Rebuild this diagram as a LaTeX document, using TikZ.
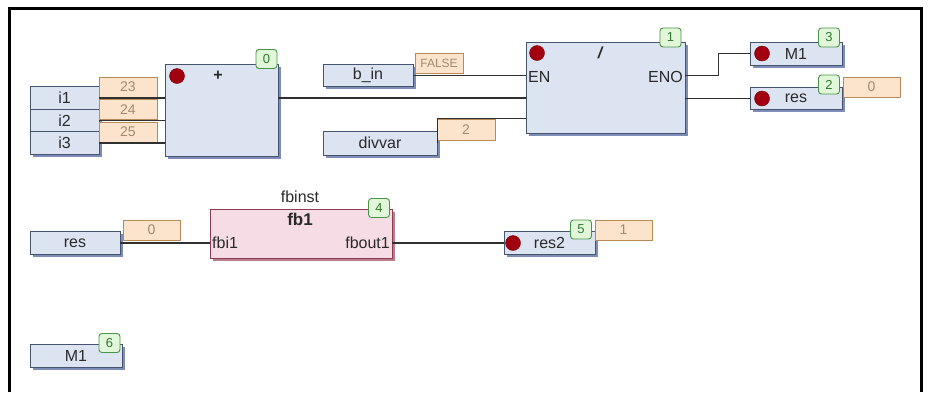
\documentclass[tikz,border=0pt]{standalone}
\usepackage{fontspec}
\setmainfont{Liberation Sans}
\usepackage{xcolor}
\usetikzlibrary{shadows,positioning,calc}

\definecolor{varfill}{HTML}{DCE4F2}
\definecolor{varline}{HTML}{46546E}
\definecolor{varshadow}{HTML}{7E8CB8}
\definecolor{valfill}{HTML}{FCE4CC}
\definecolor{valline}{HTML}{B88A58}
\definecolor{valtxt}{HTML}{A08A74}
\definecolor{badgefill}{HTML}{E2F6DA}
\definecolor{badgeline}{HTML}{4A9448}
\definecolor{badgetxt}{HTML}{2F7A30}
\definecolor{dotred}{HTML}{A3000F}
\definecolor{fbfill}{HTML}{F6DCE4}
\definecolor{fbline}{HTML}{8C3C50}
\definecolor{fbshadow}{HTML}{B8808E}
\definecolor{wirecol}{HTML}{303030}
\definecolor{txt}{HTML}{2A2A2A}

\begin{document}
\begin{tikzpicture}[x=1pt,y=-1pt,
    font=\fontsize{16}{18}\selectfont, text=txt,
    var/.style={draw=varline, fill=varfill, line width=0.9pt, minimum width=#1,
        minimum height=22.5pt, inner sep=0pt,
        drop shadow={shadow xshift=2.5pt, shadow yshift=-2.5pt, fill=varshadow, opacity=1}},
    var/.default=90pt,
    block/.style={var, minimum width=#1},
    fbblock/.style={draw=fbline, fill=fbfill, line width=0.9pt, inner sep=0pt, minimum width=#1,
        drop shadow={shadow xshift=2.5pt, shadow yshift=-2.5pt, fill=fbshadow, opacity=1}},
    value/.style={draw=valline, fill=valfill, line width=0.9pt, minimum width=57pt,
        minimum height=20pt, inner sep=0pt, font=\fontsize{14}{14}\selectfont, text=valtxt},
    badge/.style={draw=badgeline, fill=badgefill, line width=0.9pt, rounded corners=3pt,
        minimum width=21pt, minimum height=19pt, inner sep=0pt,
        font=\fontsize{13}{13}\selectfont, text=badgetxt},
    dot/.style={circle, fill=dotred, draw=dotred!70!black, minimum size=15pt, inner sep=0pt},
    wire/.style={draw=wirecol, line width=1.1pt}]

    \useasboundingbox (0,0) rectangle (928,392);
    \fill[white] (0,0) rectangle (928,392);

    % Frame
    \draw[line width=3pt] (9.5,392) -- (9.5,8.5) -- (921.5,8.5) -- (921.5,392);

    % Network 1: inputs and ADD
    \node[var=69pt] (i1) at (64.5,98) {i1};
    \node[var=69pt] (i2) at (64.5,120.5) {i2};
    \node[var=69pt] (i3) at (64.5,143) {i3};
    \node[value, minimum width=58pt] (v23) at (128,87) {23};
    \node[value, minimum width=58pt] (v24) at (128,109.5) {24};
    \node[value, minimum width=58pt] (v25) at (128,132) {25};

    \node[block=113pt, minimum height=92pt] (add) at (221.5,110) {};
    \node[dot] (addrun) at (177,76) {};
    \node[font=\fontsize{16}{18}\bfseries] (addop) at (218,76) {+};
    \node[badge] (addnum) at (266.5,59) {0};

    % Network 1: DIV
    \node[var] (bin) at (368,75.5) {b\_in};
    \node[value, minimum width=48pt, font=\fontsize{12}{12}\selectfont] (binval) at (439,63) {FALSE};
    \node[var=114pt, minimum height=24pt] (divvar) at (380,143) {divvar};
    \node[value, minimum width=58pt, minimum height=21pt] (divval) at (466,129.5) {2};

    \node[block=159pt, minimum height=91pt] (div) at (605.5,87.5) {};
    \node[dot] (divrun) at (537,53) {};
    \node[font=\fontsize{16}{18}\bfseries\itshape] (divop) at (600,53) {/};
    \node[anchor=west, inner sep=1pt] (en) at (527,77) {EN};
    \node[anchor=east, inner sep=1pt] (eno) at (684,77) {ENO};
    \node[badge] (divnum) at (670.5,37.5) {1};

    % Outputs
    \node[var=92pt, minimum height=23pt] (m1c) at (796,53.5) {M1};
    \node[dot] (m1run) at (762,53.5) {};
    \node[badge] (m1num) at (829,37.5) {3};
    \node[var=92pt] (resc) at (796,98.5) {res};
    \node[dot] (resrun) at (762,98.5) {};
    \node[badge] (resnum) at (829,84.5) {2};
    \node[value] (resval) at (871.5,87) {0};

    \draw[wire] (i1.east) -- (add.west |- i1.east);
    \draw[wire] (i2.east) -- (add.west |- i2.east);
    \draw[wire] (i3.east) -- (add.west |- i3.east);
    \draw[wire] (add.east |- i1.east) -- (div.west |- i1.east);
    \draw[wire] (bin.east) -- (div.west |- bin.east);
    \draw[wire] (divvar.east) |- (div.west |- divval.north);
    \draw[wire] (div.east |- bin.east) -- ++(33,0) |- (m1c.west);
    \draw[wire] (div.east |- resc.west) -- (resc.west);

    % Network 2: function block
    \node[var] (resin) at (75,243) {res};
    \node[value] (resinval) at (151.5,230) {0};
    \node[fbblock=182pt, minimum height=49pt] (fb) at (301,233.5) {};
    \node (fbname) at (300,197) {fbinst};
    \node[font=\fontsize{17}{18}\bfseries] (fbtype) at (300,219) {fb1};
    \node[anchor=west, inner sep=1pt] (fbi) at (211,243) {fbi1};
    \node[anchor=east, inner sep=1pt] (fbo) at (391,243) {fbout1};
    \node[badge] (fbnum) at (379,208) {4};

    \node[var=91pt] (res2) at (549.5,243) {res2};
    \node[dot] (res2run) at (513,243) {};
    \node[badge] (res2num) at (581,229.5) {5};
    \node[value] (res2val) at (623.5,230) {1};

    \draw[wire] (resin.east) -- (fb.west |- resin.east);
    \draw[wire] (fb.east |- res2.west) -- (res2.west);

    % Network 3
    \node[var=92pt, minimum height=23pt] (m1) at (76,355.5) {M1};
    \node[badge] (m1num2) at (109.5,343) {6};
\end{tikzpicture}
\end{document}
